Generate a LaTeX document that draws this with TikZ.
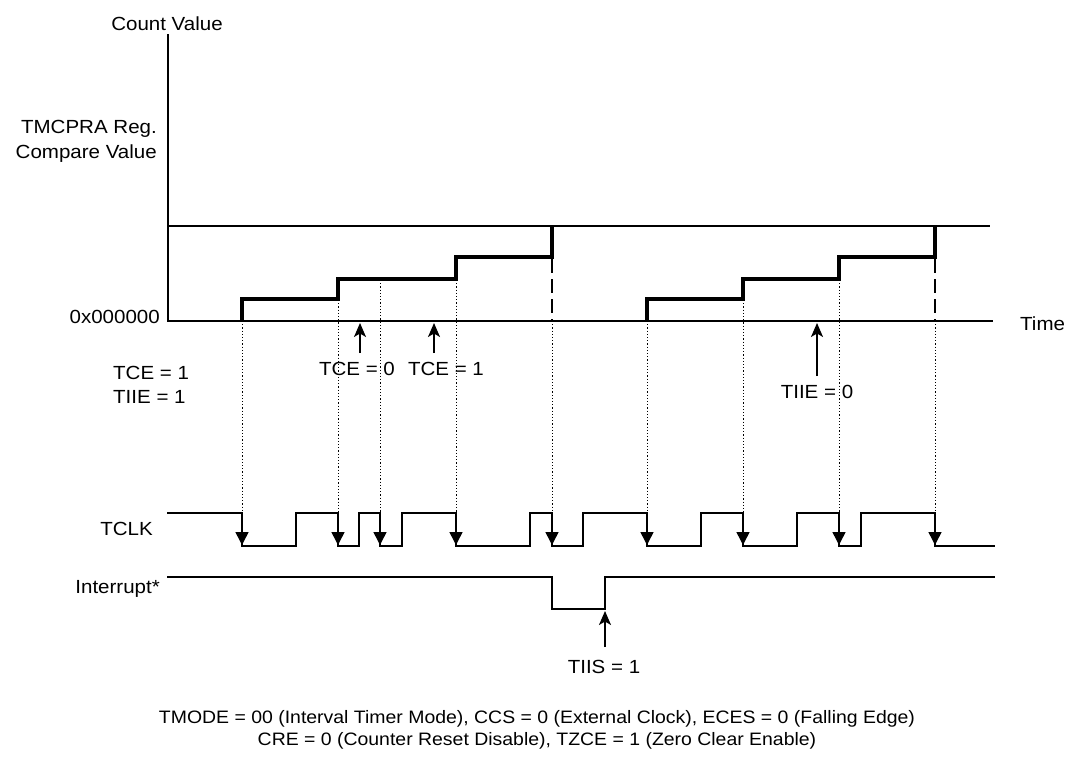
\documentclass[tikz,border=0pt]{standalone}
\usepackage{fontspec}
\setmainfont{Liberation Sans}[FakeStretch=1.08]
\usetikzlibrary{arrows.meta}
\begin{document}
\begin{tikzpicture}[x=1pt,y=-1pt,
  axisline/.style={line width=2pt},
  cmpline/.style={line width=1.3pt},
  stair/.style={line width=3.5pt, line join=miter},
  sig/.style={line width=1.5pt, line join=miter},
  guide/.style={line width=1pt, dash pattern=on 1.2pt off 2pt},
  dashv/.style={line width=1.5pt, dash pattern=on 14pt off 6pt},
  clkarr/.style={line width=1.5pt, -{Triangle[width=13pt,length=13pt]}},
  uparr/.style={line width=1.6pt, -{Stealth[width=12pt,length=14pt,inset=3.5pt]}},
  lbl/.style={font=\fontsize{19}{22}\selectfont, inner sep=0pt},
  note/.style={font=\fontsize{18}{21}\selectfont, inner sep=0pt}]
\useasboundingbox (0,0) rectangle (1074,756);

% axes
\coordinate (ytop) at (168,34);
\coordinate (orig) at (168,321);
\coordinate (xend) at (993,321);
\draw[axisline] (ytop) -- (orig) -- (xend);
\coordinate (cmpL) at (168,226);
\coordinate (cmpR) at (990,226);
\draw[cmpline] (cmpL) -- (cmpR);

% staircases
\draw[stair] (242,321) -- (242,299) -- (338,299) -- (338,279) -- (456,279) -- (456,257) -- (552,257) -- (552,226);
\draw[stair] (647,321) -- (647,299) -- (743,299) -- (743,279) -- (839,279) -- (839,257) -- (935,257) -- (935,226);
\draw[dashv] (552,259) -- (552,321);
\draw[dashv] (935,259) -- (935,321);

% dotted guides to clock edges
\foreach \x/\y in {242/321, 338/300, 380/280, 456/280, 552/321, 647/321, 743/300, 839/280, 935/321}
  \draw[guide] (\x,\y) -- (\x,513);

% TCLK waveform
\draw[sig] (167,513) -- (242,513) -- (242,546) -- (296,546) -- (296,513) -- (338,513) -- (338,546)
  -- (359,546) -- (359,513) -- (380,513) -- (380,546) -- (402,546) -- (402,513) -- (456,513)
  -- (456,546) -- (530,546) -- (530,513) -- (552,513) -- (552,546) -- (583,546) -- (583,513)
  -- (647,513) -- (647,546) -- (701,546) -- (701,513) -- (743,513) -- (743,546) -- (797,546)
  -- (797,513) -- (839,513) -- (839,546) -- (861,546) -- (861,513) -- (935,513) -- (935,546) -- (995,546);
\foreach \x in {242,338,380,456,552,647,743,839,935}
  \draw[clkarr] (\x,513) -- (\x,545);

% Interrupt waveform
\draw[sig] (167,577) -- (552,577) -- (552,609) -- (605,609) -- (605,577) -- (995,577);

% annotation arrows
\coordinate (tce0s) at (360,353); \coordinate (tce0e) at (360,323);
\coordinate (tce1s) at (434,353); \coordinate (tce1e) at (434,323);
\coordinate (tiies) at (817,376); \coordinate (tiiee) at (817,323);
\coordinate (tiiss) at (605,647); \coordinate (tiise) at (605,611);
\draw[uparr] (tce0s) -- (tce0e);
\draw[uparr] (tce1s) -- (tce1e);
\draw[uparr] (tiies) -- (tiiee);
\draw[uparr] (tiiss) -- (tiise);

% labels
\node[lbl, anchor=base] (count) at (167,30) {Count Value};
\node[lbl, anchor=base east] (tmc1) at (157,133) {TMCPRA Reg.};
\node[lbl, anchor=base east] (tmc2) at (157,158) {Compare Value};
\node[lbl, anchor=base east] (zero) at (160,323) {0x000000};
\node[lbl, anchor=base west] (time) at (1020,330) {Time};
\node[lbl, anchor=base west] (tceA) at (113,379) {TCE = 1};
\node[lbl, anchor=base west] (tiieA) at (113,403) {TIIE = 1};
\node[lbl, anchor=base] (tceB) at (357,375) {TCE = 0};
\node[lbl, anchor=base] (tceC) at (446,375) {TCE = 1};
\node[lbl, anchor=base] (tiieB) at (817,398) {TIIE = 0};
\node[lbl, anchor=base east] (tclk) at (153,535) {TCLK};
\node[lbl, anchor=base east] (intr) at (160,593) {Interrupt*};
\node[lbl, anchor=base] (tiis) at (604,673) {TIIS = 1};
\node[note, anchor=base] (note1) at (537,723) {TMODE = 00 (Interval Timer Mode), CCS = 0 (External Clock), ECES = 0 (Falling Edge)};
\node[note, anchor=base] (note2) at (537,745) {CRE = 0 (Counter Reset Disable), TZCE = 1 (Zero Clear Enable)};
\end{tikzpicture}
\end{document}
